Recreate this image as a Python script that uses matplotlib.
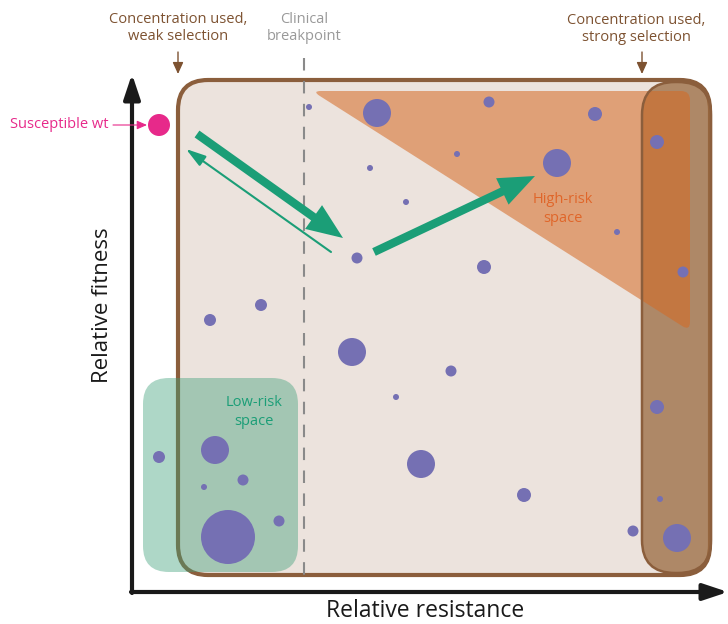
import matplotlib
matplotlib.use("Agg")
import numpy as np
import matplotlib.pyplot as plt
from matplotlib.patches import FancyBboxPatch, PathPatch, FancyArrowPatch
from matplotlib.path import Path

plt.rcParams['font.family'] = ['Open Sans', 'DejaVu Sans']

# ---- data (pixel-space concept diagram) ----
dot_x = [309, 377, 489, 457, 370, 406, 557, 357, 484, 595, 657, 617, 683, 657, 660, 633, 677,
         352, 451, 396, 421, 524, 159, 215, 243, 204, 228, 279, 210, 261]
dot_y = [107, 113, 102, 154, 168, 202, 163, 258, 267, 114, 142, 232, 272, 407, 499, 531, 538,
         352, 371, 397, 464, 495, 457, 450, 480, 487, 537, 521, 320, 305]
dot_r = [3, 14, 5.5, 3, 3, 3, 14, 5.5, 7, 7, 7, 3, 5.5, 7, 3, 5.5, 14,
         14, 5.5, 3, 14, 7, 6, 14, 5.5, 3, 27, 5.5, 6, 6]

wt_x, wt_y, wt_r = 159, 125, 11

labels_top = ["Concentration used,\nweak selection", "Clinical\nbreakpoint",
              "Concentration used,\nstrong selection"]
x_label = "Relative resistance"
y_label = "Relative fitness"

BROWN = '#8B5E3C'
BROWN_TXT = '#7D5231'
GREEN = '#1B9E77'
PURPLE = '#7570B3'
PINK = '#E7298A'
ORANGE_TXT = '#E0662A'


def rounded_polygon(pts, d):
    pts = np.asarray(pts, float)
    n = len(pts)
    verts, codes = [], []
    for i in range(n):
        p = pts[i]
        prev = pts[i - 1]
        nxt = pts[(i + 1) % n]
        a = p + (prev - p) / np.linalg.norm(prev - p) * d
        b = p + (nxt - p) / np.linalg.norm(nxt - p) * d
        verts += [a, p, b]
        codes += [Path.MOVETO if i == 0 else Path.LINETO, Path.CURVE3, Path.CURVE3]
    verts.append(verts[0])
    codes.append(Path.CLOSEPOLY)
    return Path(verts, codes)


fig = plt.figure(figsize=(7.28, 6.24), dpi=100)
ax = fig.add_axes([0, 0, 1, 1])
ax.set_xlim(0, 728)
ax.set_ylim(624, 0)
ax.axis('off')

# main box
main = FancyBboxPatch((178, 80), 532, 495, boxstyle="round,pad=0,rounding_size=30",
                      facecolor='#ECE3DD', edgecolor=BROWN, linewidth=3, zorder=1)
ax.add_patch(main)

# strong selection band
band = FancyBboxPatch((642, 82), 69, 491, boxstyle="round,pad=0,rounding_size=33",
                      facecolor='#9A6A40', edgecolor='none', alpha=0.75, zorder=2)
ax.add_patch(band)
band_edge = FancyBboxPatch((642, 82), 69, 491, boxstyle="round,pad=0,rounding_size=33",
                           facecolor='none', edgecolor=BROWN, linewidth=1.8, zorder=4)
ax.add_patch(band_edge)

# high-risk triangle
tri = PathPatch(rounded_polygon([(312, 91), (690, 91), (690, 331)], 9), facecolor='#D66923',
                edgecolor='none', alpha=0.55, zorder=3)
ax.add_patch(tri)

# low-risk box
low = FancyBboxPatch((143, 378), 155, 194, boxstyle="round,pad=0,rounding_size=26",
                     facecolor='#3FA07A', edgecolor='none', alpha=0.42, zorder=5)
ax.add_patch(low)

# breakpoint dashed line
ax.plot([304, 304], [58, 582], color='#8A8A8A', lw=1.5, ls=(0, (6, 5)), zorder=6)

# axes arrows
ax.add_patch(FancyArrowPatch((132, 593), (132, 74), arrowstyle='-|>,head_length=0.75,head_width=0.25',
                             mutation_scale=20, color='#1a1a1a', lw=3, zorder=7, shrinkA=0, shrinkB=0))
ax.add_patch(FancyArrowPatch((131, 592), (728, 592), arrowstyle='-|>,head_length=0.75,head_width=0.25',
                             mutation_scale=20, color='#1a1a1a', lw=3, zorder=7, shrinkA=0, shrinkB=0))

# dots
s = [(2 * r * 0.72) ** 2 for r in dot_r]
ax.scatter(dot_x, dot_y, s=s, color=PURPLE, edgecolors='none', zorder=8)
ax.scatter([wt_x], [wt_y], s=[(2 * wt_r * 0.72) ** 2], color=PINK, edgecolors='none', zorder=8)

# green arrows
thick = 'simple,head_length=1.3,head_width=1.05,tail_width=0.3'
ax.add_patch(FancyArrowPatch((197, 134), (343, 238), arrowstyle=thick, mutation_scale=20,
                             color=GREEN, lw=0, zorder=9, shrinkA=0, shrinkB=0))
ax.add_patch(FancyArrowPatch((374, 252), (535, 176), arrowstyle=thick, mutation_scale=20,
                             color=GREEN, lw=0, zorder=9, shrinkA=0, shrinkB=0))
ax.add_patch(FancyArrowPatch((331, 252), (186, 149), arrowstyle='-|>,head_length=0.6,head_width=0.18',
                             mutation_scale=20, color=GREEN, lw=1.5, zorder=9, shrinkA=0, shrinkB=0))

# small pointer arrows
for x in (178, 642):
    ax.add_patch(FancyArrowPatch((x, 52), (x, 74), arrowstyle='-|>,head_length=0.35,head_width=0.16',
                                 mutation_scale=20, color=BROWN_TXT, lw=1, zorder=9, shrinkA=0, shrinkB=0))
ax.add_patch(FancyArrowPatch((113, 125), (147, 125), arrowstyle='-|>,head_length=0.3,head_width=0.13',
                             mutation_scale=20, color=PINK, lw=0.8, zorder=9, shrinkA=0, shrinkB=0))

# texts
ax.text(178, 28, labels_top[0], ha='center', va='center', fontsize=10.5, color=BROWN_TXT, linespacing=1.25)
ax.text(304, 28, labels_top[1], ha='center', va='center', fontsize=10.5, color='#999999', linespacing=1.25)
ax.text(636, 29, labels_top[2], ha='center', va='center', fontsize=10.5, color=BROWN_TXT, linespacing=1.25)
ax.text(59, 125, "Susceptible wt", ha='center', va='center', fontsize=10.5, color=PINK)
ax.text(563, 209, "High-risk\nspace", ha='center', va='center', fontsize=10.5, color=ORANGE_TXT,
        linespacing=1.3, zorder=10)
ax.text(254, 412, "Low-risk\nspace", ha='center', va='center', fontsize=10.5, color=GREEN,
        linespacing=1.3, zorder=10)
ax.text(425, 611, x_label, ha='center', va='center', fontsize=16.5, color='#1a1a1a')
ax.text(103, 305, y_label, ha='center', va='center', fontsize=16, color='#1a1a1a', rotation=90)

fig.savefig('out.png', dpi=100)
